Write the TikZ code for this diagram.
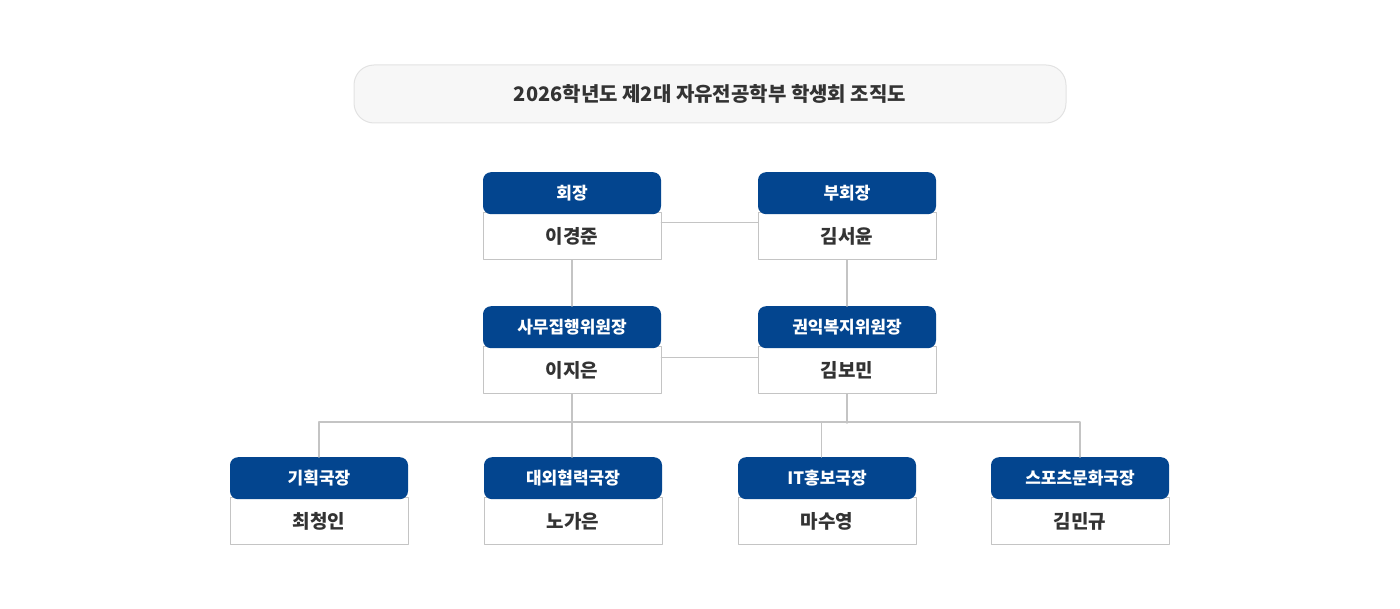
\documentclass[tikz,border=0pt]{standalone}
\usepackage{fontspec}
\setmainfont{Noto Sans CJK KR}
\definecolor{navy}{RGB}{3,69,143}
\definecolor{linegray}{RGB}{196,196,196}
\definecolor{textgray}{RGB}{51,51,51}
\definecolor{titlefill}{RGB}{247,247,247}
\definecolor{titleline}{RGB}{226,226,226}
\tikzset{
    titlebox/.style = {draw=titleline, line width=1pt, fill=titlefill, rounded corners=20pt,
        minimum width=712pt, minimum height=58pt, text=textgray,
        font=\bfseries\fontsize{20}{23}\selectfont},
    cardhead/.style = {fill=navy, rounded corners=8pt, minimum width=178pt, minimum height=42pt,
        inner sep=0pt, text=white, font=\bfseries\fontsize{17}{20}\selectfont},
    cardbody/.style = {draw=linegray, line width=1pt, fill=white, minimum width=178pt,
        minimum height=47pt, inner sep=0pt, text=textgray,
        font=\bfseries\fontsize{19}{22}\selectfont},
    link/.style = {draw=linegray, line width=1.6pt}
}
% card: name, x, top y, title, person
\newcommand{\orgcard}[5]{%
    \node[cardbody, anchor=north] (#1) at (#2,#3+40) {#5};
    \node[cardhead, anchor=north] (#1-h) at (#2,#3) {#4};
}

\begin{document}
\begin{tikzpicture}[x=1pt,y=-1pt,line cap=round,line join=round]
    \useasboundingbox (0,0) rectangle (1400,609);
    \node[titlebox] (title) at (710,94) {2026학년도 제2대 자유전공학부 학생회 조직도};
    % cards
    \orgcard{pres}{572}{172}{회장}{이경준}
    \orgcard{vp}{847}{172}{부회장}{김서윤}
    \orgcard{sec}{572}{306}{사무집행위원장}{이지은}
    \orgcard{wel}{847}{306}{권익복지위원장}{김보민}
    \orgcard{plan}{319}{457}{기획국장}{최청인}
    \orgcard{ext}{573}{457}{대외협력국장}{노가은}
    \orgcard{it}{827}{457}{IT홍보국장}{마수영}
    \orgcard{sport}{1080}{457}{스포츠문화국장}{김민규}
    % connectors
    \draw[link] ([yshift=13.5pt]pres.east) -- ([yshift=13.5pt]pres.east -| vp.west);
    \draw[link] ([yshift=12.5pt]sec.east) -- ([yshift=12.5pt]sec.east -| wel.west);
    \draw[link] (pres.south) -- (sec-h.north);
    \draw[link] (vp.south) -- (wel-h.north);
    \draw[link] (sec.south) -- (sec.south |- ext-h.north);
    \draw[link] (wel.south) -- ++(0,29);
    \draw[link] (plan-h.north) -- ++(0,-35) -| (sport-h.north);
    \draw[link] ([xshift=-5.5pt]it-h.north) -- ++(0,-35);
\end{tikzpicture}
\end{document}
